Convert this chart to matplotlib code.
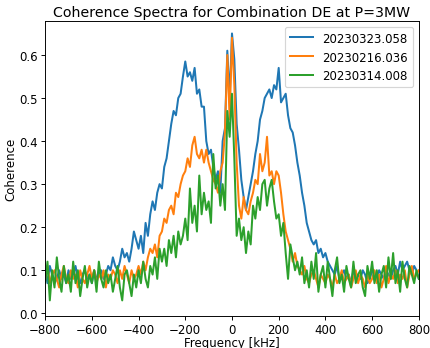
import numpy as np
import matplotlib
matplotlib.use("Agg")
import matplotlib.pyplot as plt

# frequency grid in kHz, 10 kHz step
freq = np.arange(-800, 801, 10)

labels = ["20230323.058", "20230216.036", "20230314.008"]

coh_0323 = [
    0.10, 0.07, 0.11, 0.09, 0.07, 0.08, 0.10, 0.08, 0.09, 0.07,
    0.10, 0.08, 0.09, 0.11, 0.08, 0.07, 0.09, 0.10, 0.08, 0.09,
    0.07, 0.10, 0.08, 0.09, 0.10, 0.08, 0.09, 0.11, 0.10, 0.13,
    0.11, 0.10, 0.12, 0.15, 0.13, 0.14, 0.12, 0.15, 0.19, 0.17,
    0.15, 0.18, 0.14, 0.21, 0.18, 0.23, 0.26, 0.24, 0.28, 0.30,
    0.29, 0.34, 0.36, 0.40, 0.44, 0.47, 0.46, 0.50, 0.51, 0.55,
    0.585, 0.55, 0.56, 0.54, 0.57, 0.51, 0.52, 0.48, 0.48, 0.40,
    0.37, 0.38, 0.34, 0.31, 0.33, 0.28, 0.40, 0.43, 0.61, 0.50,
    0.65, 0.59, 0.44, 0.38, 0.31, 0.27, 0.24, 0.27, 0.30, 0.33,
    0.37, 0.40, 0.45, 0.47, 0.50, 0.51, 0.52, 0.50, 0.53, 0.52,
    0.57, 0.49, 0.50, 0.51, 0.46, 0.43, 0.42, 0.39, 0.35, 0.32,
    0.28, 0.25, 0.21, 0.19, 0.17, 0.16, 0.17, 0.14, 0.15, 0.13,
    0.14, 0.12, 0.11, 0.10, 0.09, 0.11, 0.08, 0.09, 0.10, 0.08,
    0.09, 0.07, 0.10, 0.08, 0.09, 0.08, 0.10, 0.09, 0.07, 0.08,
    0.10, 0.09, 0.08, 0.10, 0.09, 0.08, 0.10, 0.09, 0.08, 0.10,
    0.11, 0.09, 0.12, 0.10, 0.11, 0.12, 0.10, 0.09, 0.11, 0.10,
    0.08,
]

coh_0216 = [
    0.08, 0.11, 0.07, 0.09, 0.10, 0.08, 0.06, 0.09, 0.11, 0.08,
    0.07, 0.10, 0.08, 0.09, 0.06, 0.10, 0.08, 0.07, 0.09, 0.11,
    0.08, 0.10, 0.07, 0.09, 0.08, 0.10, 0.06, 0.09, 0.08, 0.10,
    0.09, 0.07, 0.10, 0.08, 0.11, 0.09, 0.07, 0.10, 0.08, 0.09,
    0.11, 0.09, 0.12, 0.10, 0.13, 0.15, 0.14, 0.16, 0.13, 0.18,
    0.19, 0.22, 0.21, 0.24, 0.25, 0.23, 0.28, 0.27, 0.30, 0.32,
    0.33, 0.36, 0.34, 0.39, 0.41, 0.37, 0.36, 0.38, 0.35, 0.38,
    0.35, 0.33, 0.31, 0.30, 0.28, 0.33, 0.35, 0.42, 0.60, 0.45,
    0.64, 0.53, 0.35, 0.25, 0.22, 0.27, 0.24, 0.23, 0.26, 0.28,
    0.31, 0.30, 0.37, 0.33, 0.35, 0.41, 0.32, 0.33, 0.30, 0.33,
    0.32, 0.28, 0.23, 0.19, 0.17, 0.15, 0.12, 0.14, 0.11, 0.10,
    0.09, 0.11, 0.08, 0.07, 0.09, 0.10, 0.08, 0.06, 0.09, 0.08,
    0.07, 0.09, 0.08, 0.06, 0.09, 0.07, 0.08, 0.10, 0.07, 0.08,
    0.09, 0.06, 0.08, 0.10, 0.07, 0.09, 0.08, 0.06, 0.09, 0.07,
    0.08, 0.10, 0.07, 0.09, 0.06, 0.08, 0.11, 0.07, 0.09, 0.08,
    0.10, 0.07, 0.09, 0.08, 0.10, 0.06, 0.09, 0.11, 0.08, 0.09,
    0.10,
]

coh_0314 = [
    0.07, 0.12, 0.03, 0.10, 0.06, 0.13, 0.08, 0.05, 0.11, 0.07,
    0.09, 0.05, 0.12, 0.07, 0.10, 0.04, 0.08, 0.11, 0.06, 0.09,
    0.07, 0.10, 0.05, 0.12, 0.08, 0.06, 0.10, 0.07, 0.09, 0.05,
    0.08, 0.11, 0.06, 0.03, 0.09, 0.10, 0.07, 0.04, 0.09, 0.06,
    0.10, 0.07, 0.12, 0.08, 0.06, 0.11, 0.09, 0.13, 0.08, 0.15,
    0.12, 0.15, 0.11, 0.17, 0.14, 0.18, 0.13, 0.19, 0.16, 0.18,
    0.22, 0.17, 0.29, 0.21, 0.25, 0.19, 0.32, 0.23, 0.28, 0.24,
    0.26, 0.21, 0.37, 0.29, 0.32, 0.25, 0.30, 0.24, 0.47, 0.41,
    0.51, 0.36, 0.18, 0.22, 0.17, 0.20, 0.14, 0.19, 0.16, 0.25,
    0.22, 0.27, 0.24, 0.30, 0.31, 0.25, 0.29, 0.31, 0.26, 0.22,
    0.23, 0.18, 0.21, 0.14, 0.08, 0.16, 0.13, 0.10, 0.12, 0.09,
    0.13, 0.07, 0.10, 0.06, 0.12, 0.08, 0.14, 0.05, 0.09, 0.11,
    0.06, 0.12, 0.08, 0.04, 0.10, 0.13, 0.07, 0.09, 0.05, 0.11,
    0.08, 0.06, 0.12, 0.07, 0.09, 0.10, 0.06, 0.04, 0.11, 0.08,
    0.12, 0.07, 0.10, 0.05, 0.09, 0.11, 0.06, 0.13, 0.08, 0.14,
    0.07, 0.10, 0.05, 0.12, 0.08, 0.06, 0.11, 0.09, 0.07, 0.10,
    0.08,
]

dpi = 85
fig = plt.figure(figsize=(430 / dpi, 349 / dpi), dpi=dpi)
ax = fig.add_axes([0.105, 0.092, 0.869, 0.845])

for vals, lab in zip([coh_0323, coh_0216, coh_0314], labels):
    ax.plot(freq, vals, label=lab, linewidth=1.7)

ax.set_xlim(-800, 800)
ax.set_ylim(-0.006, 0.679)
ax.tick_params(pad=2.5)
ax.set_xlabel("Frequency [kHz]", labelpad=0)
ax.set_ylabel("Coherence", labelpad=2)
ax.set_title("Coherence Spectra for Combination DE at P=3MW", fontsize=12, pad=4)
ax.legend(loc="upper right")

fig.savefig("out.png", dpi=dpi)
